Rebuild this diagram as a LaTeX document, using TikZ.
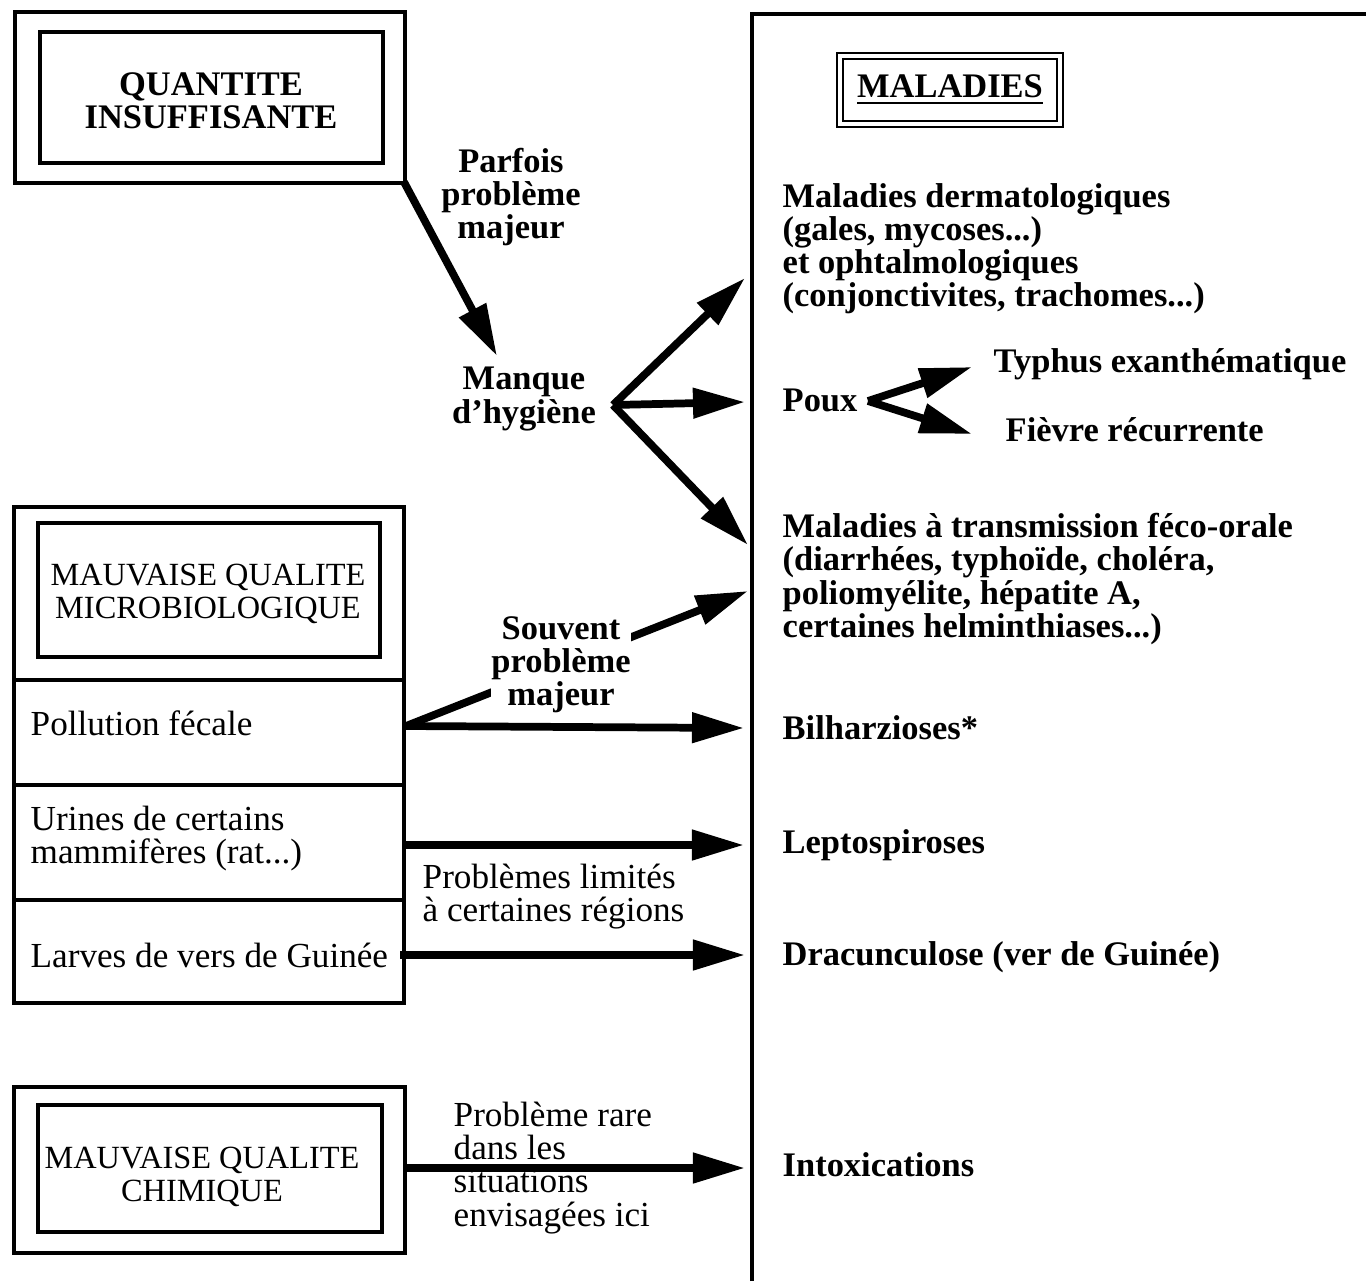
\documentclass[tikz,border=0pt]{standalone}
\usepackage{fontspec}
\setmainfont{Liberation Serif}
\usetikzlibrary{arrows.meta}

\tikzset{
  cadre/.style={line width=0.9pt},
  fleche/.style={line width=2.2pt, -{Triangle[length=0.52cm, width=0.29cm]}},
  gras/.style={font=\fontsize{9.8}{9.4}\selectfont\bfseries, inner sep=0pt},
  maigre/.style={font=\fontsize{10}{9.4}\selectfont, inner sep=0pt},
  titre/.style={font=\fontsize{9.2}{9.4}\selectfont, inner sep=0pt}
}

\begin{document}
\begin{tikzpicture}[x=0.01cm, y=-0.01cm]
\useasboundingbox (0,0) rectangle (1366,1281);
\coordinate (q) at (404,182);
\coordinate (h) at (497,356);
\coordinate (b) at (613,405);
\coordinate (d1) at (745,278);
\coordinate (d2) at (745,402);
\coordinate (d3) at (748,545);
\coordinate (p) at (868,401);
\coordinate (t) at (972,367);
\coordinate (f) at (972,434);
\coordinate (m1) at (406,726);
\coordinate (m2) at (748,591);
\coordinate (m3) at (744,728);
\coordinate (u1) at (404,845);
\coordinate (u2) at (744,845);
\coordinate (l1) at (400,955);
\coordinate (l2) at (745,955);
\coordinate (c1) at (405,1168);
\coordinate (c2) at (745,1168);
\draw[cadre] (15,12) rectangle (405,183);
\draw[cadre] (40,32) rectangle (383,163);
\draw[cadre] (14,507) rectangle (404,1003);
\draw[cadre] (38,523) rectangle (380,657);
\draw[cadre] (14,680) -- (404,680);
\draw[cadre] (14,785) -- (404,785);
\draw[cadre] (14,900) -- (404,900);
\draw[cadre] (14,1087) rectangle (405,1253);
\draw[cadre] (38,1105) rectangle (382,1232);
\draw[line width=1.3pt] (752,1281) -- (752,14) -- (1366,14);
\node[gras, align=center] (quantite) at (211,101) {QUANTITE\\INSUFFISANTE};
\node[titre, align=center] (microbio) at (208,594) {MAUVAISE QUALITE\\MICROBIOLOGIQUE};
\node[titre, align=center] (chimique) at (202,1177) {MAUVAISE QUALITE\\CHIMIQUE};
\node[maigre, anchor=west] (fecale) at (30,723) {Pollution fécale};
\node[maigre, anchor=west, align=left] (urines) at (30,839) {Urines de certains\\mammifères (rat...)};
\node[maigre, anchor=west] (larves) at (30,955) {Larves de vers de Guinée};
\node[draw, double, line width=0.6pt, double distance=1.3pt, minimum width=2.2cm, minimum height=0.68cm, gras] (maladies) at (950,90) {\underline{MALADIES}};
\node[gras, align=center] (parfois) at (511,197) {Parfois\\problème\\majeur};
\node[gras, align=center] (manque) at (524,399) {Manque\\d'hygiène};
\node[gras, anchor=west, align=left] (derm) at (782,249) {Maladies dermatologiques\\(gales, mycoses...)\\et ophtalmologiques\\(conjonctivites, trachomes...)};
\node[gras, anchor=west] (poux) at (782,400) {Poux};
\node[gras, anchor=west] (typhus) at (993,364) {Typhus exanthématique};
\node[gras, anchor=west] (fievre) at (1005,430) {Fièvre récurrente};
\node[gras, anchor=west, align=left] (feco) at (782,579) {Maladies à transmission féco-orale\\(diarrhées, typhoïde, choléra,\\poliomyélite, hépatite A,\\certaines helminthiases...)};
\node[gras, anchor=west] (bilh) at (782,728) {Bilharzioses*};
\node[gras, anchor=west] (lepto) at (782,845) {Leptospiroses};
\node[gras, anchor=west] (dracu) at (782,957) {Dracunculose (ver de Guinée)};
\node[gras, anchor=west] (intox) at (782,1165) {Intoxications};
\node[maigre, anchor=west, align=left] (limites) at (422,897) {Problèmes limités\\à certaines régions};
\node[maigre, anchor=west, align=left] (rare) at (453,1168) {Problème rare\\dans les\\situations\\envisagées ici};
\draw[fleche] (q) -- (h);
\draw[fleche] (b) -- (d1);
\draw[fleche] (b) -- (d2);
\draw[fleche] (b) -- (d3);
\draw[fleche] (p) -- (t);
\draw[fleche] (p) -- (f);
\draw[fleche] (m1) -- (m2);
\draw[fleche] (m1) -- (m3);
\draw[fleche] (u1) -- (u2);
\draw[fleche] (l1) -- (l2);
\draw[fleche] (c1) -- (c2);
\node[gras, align=center, fill=white] (souvent) at (561,665) {Souvent\\problème\\majeur};
\end{tikzpicture}
\end{document}
